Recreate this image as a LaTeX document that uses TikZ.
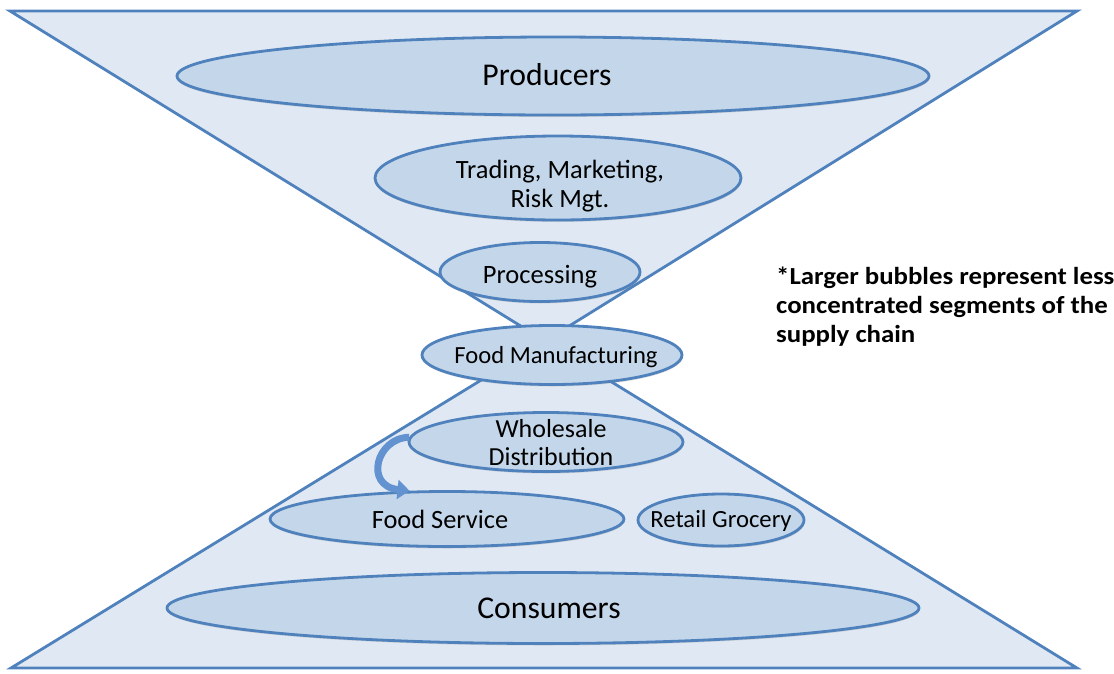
\documentclass[tikz,border=0pt]{standalone}
\usepackage{fontspec}
\setmainfont{Carlito}
\newfontfamily\notefont[FakeStretch=1.095]{Carlito}
\usetikzlibrary{shapes.geometric,shadows,arrows.meta}
\definecolor{edgeblue}{RGB}{79,129,189}
\definecolor{trifill}{RGB}{224,233,243}
\definecolor{ellfill}{RGB}{196,215,234}
\definecolor{arrowblue}{RGB}{98,146,208}
\tikzset{
  funnel/.style={draw=edgeblue, fill=trifill, line width=2.8pt},
  bubble/.style={ellipse, draw=edgeblue, fill=ellfill, line width=2.8pt, inner sep=0pt,
    drop shadow={shadow xshift=0.5pt, shadow yshift=-2pt, opacity=0.25}},
  bubtext/.style={inner sep=0pt, align=center, text=black},
}
\begin{document}
\begin{tikzpicture}[x=1pt,y=-1pt]
\useasboundingbox (0,0) rectangle (1114,673);
% hourglass
\draw[funnel] (10,11) -- (1077,11) -- (545,341) -- cycle;
\draw[funnel] (545,341) -- (11,668) -- (1077,668) -- cycle;
% bubbles
\node[bubble, minimum width=752pt, minimum height=78pt] (pr) at (553,76) {};
\node[bubble, minimum width=366pt, minimum height=84pt] (tm) at (558,178) {};
\node[bubble, minimum width=200pt, minimum height=59pt] (pc) at (540,272) {};
\node[bubble, minimum width=260pt, minimum height=59pt] (fm) at (552,355) {};
\node[bubble, minimum width=274pt, minimum height=59pt] (wd) at (546,442) {};
\node[bubble, minimum width=354pt, minimum height=55pt] (fs) at (447,519) {};
\node[bubble, minimum width=166pt, minimum height=52pt] (rg) at (721,520) {};
\node[bubble, minimum width=752pt, minimum height=71pt] (cs) at (543,608) {};
% texts
\node[bubtext, font=\fontsize{31.7}{37}\selectfont] (prt) at (547,75) {Producers};
\node[bubtext, font=\fontsize{26.4}{29}\selectfont] (tmt) at (560,186) {Trading, Marketing,\\Risk Mgt.};
\node[bubtext, font=\fontsize{26.5}{29}\selectfont] (pct) at (540,277) {Processing};
\node[bubtext, font=\fontsize{24.6}{29}\selectfont] (fmt) at (556,357) {Food Manufacturing};
\node[bubtext, font=\fontsize{26}{28}\selectfont] (wdt) at (551,443) {Wholesale\\Distribution};
\node[bubtext, font=\fontsize{26.4}{29}\selectfont] (fst) at (440,519) {Food Service};
\node[bubtext, font=\fontsize{24.7}{29}\selectfont] (rgt) at (721,521) {Retail Grocery};
\node[bubtext, font=\fontsize{31.7}{37}\selectfont] (cst) at (549,608) {Consumers};
% arrow
\draw[arrowblue, line width=7pt, -{Triangle[width=19pt,length=12pt]}]
  (wd.178) .. controls (376,438) and (364,486) .. (fs.143);
% note
\node[anchor=west, inner sep=0pt, align=left, font=\notefont\bfseries\fontsize{24.5}{29}\selectfont] (note) at (776,307)
  {*Larger bubbles represent less\\concentrated segments of the\\supply chain};
\end{tikzpicture}
\end{document}
